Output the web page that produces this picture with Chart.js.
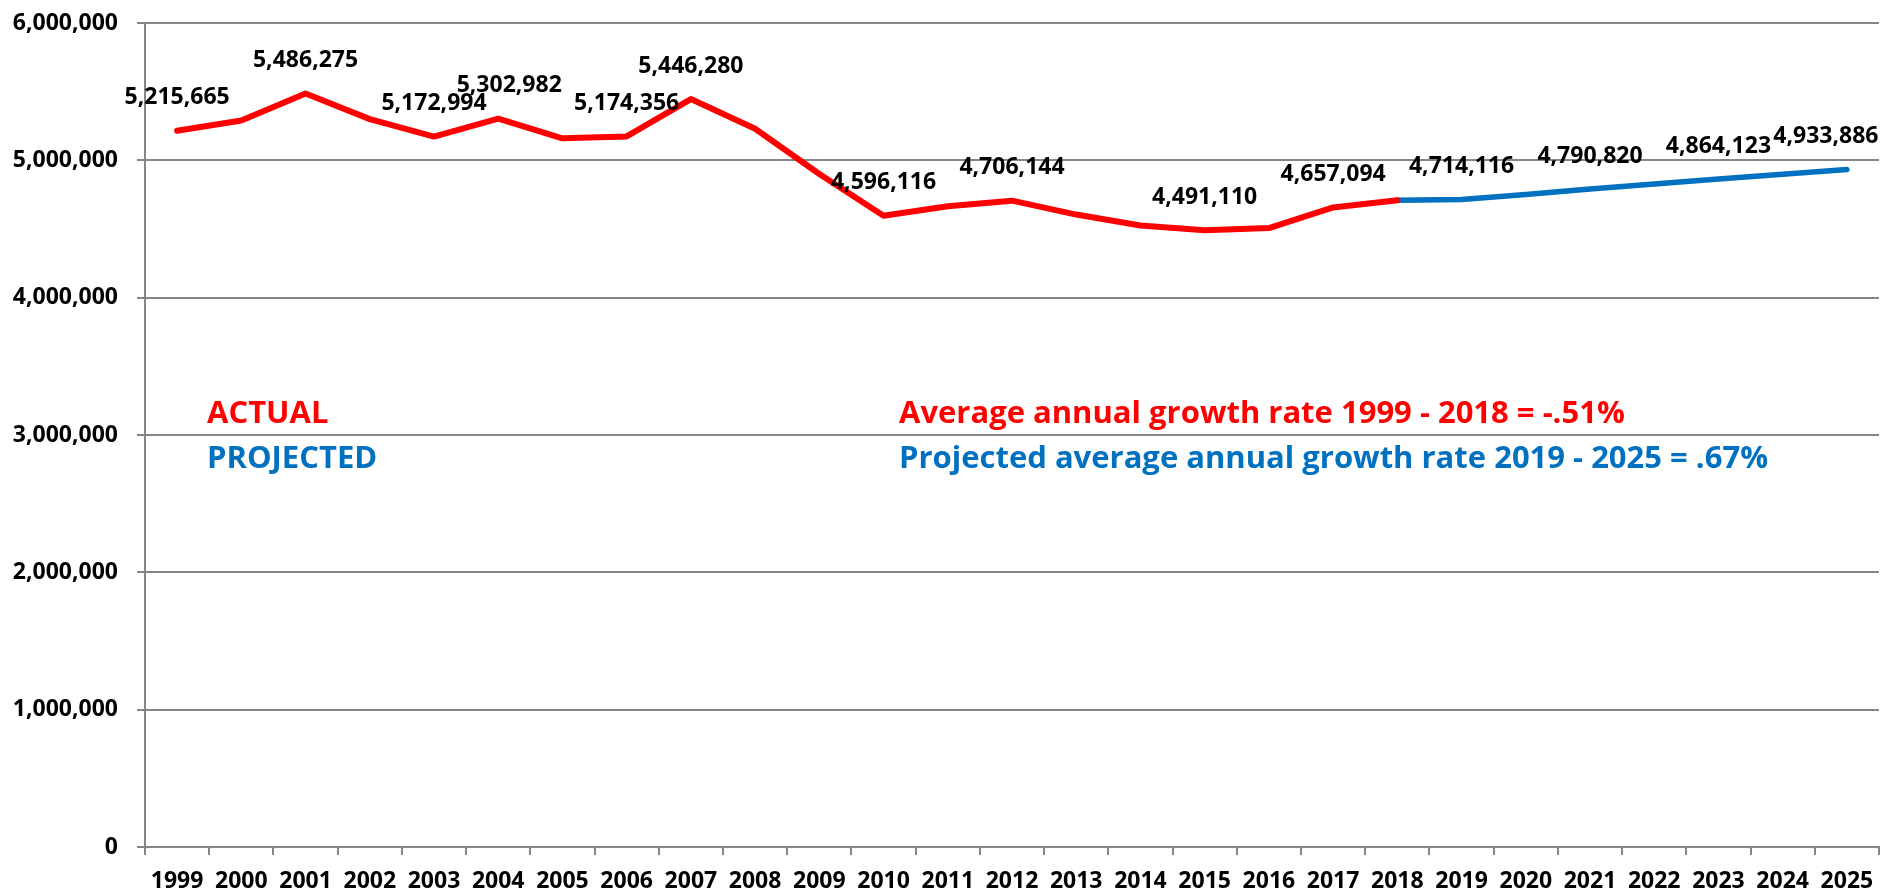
<!DOCTYPE html>
<html>
<head>
<meta charset="utf-8">
<title>Actual and projected</title>
<script src="https://cdn.jsdelivr.net/npm/chart.js@4.4.1/dist/chart.umd.min.js"></script>
<style>
    html, body { margin: 0; padding: 0; background: #ffffff; }
    #wrap { width: 1883px; height: 893px; }
</style>
</head>
<body>
<div id="wrap"><canvas id="chart" width="1883" height="893"></canvas></div>
<script>
// Years on the x axis
const years = ['1999', '2000', '2001', '2002', '2003', '2004', '2005', '2006', '2007', '2008',
               '2009', '2010', '2011', '2012', '2013', '2014', '2015', '2016', '2017', '2018',
               '2019', '2020', '2021', '2022', '2023', '2024', '2025'];

// Actual values 1999 - 2018
const actualValues = [5215665, 5290000, 5486275, 5300000, 5172994, 5302982, 5160000, 5174356, 5446280, 5230000,
                      4900000, 4596116, 4665000, 4706144, 4605000, 4525000, 4491110, 4507000, 4657094, 4709000];

// Projected values 2019 - 2025
const projectedValues = [4714116, 4752000, 4790820, 4827000, 4864123, 4899000, 4933886];

// Years that carry a value label
const labeledYears = ['1999', '2001', '2003', '2004', '2006', '2007', '2010', '2012', '2015', '2017',
                      '2019', '2021', '2023', '2025'];

const yTicks = [0, 1000000, 2000000, 3000000, 4000000, 5000000, 6000000];

const RED = '#ff0000';
const BLUE = '#0070c0';
const GRID = '#868686';
const FONT = '"Open Sans", Lato, sans-serif';

// projected line starts at the last actual point
const projectedData = years.map((y, i) => {
    const k = i - actualValues.length;
    if (k === -1) return actualValues[actualValues.length - 1];
    if (k < 0) return null;
    return projectedValues[k];
});

function fmt(v) {
    return v.toLocaleString('en-US');
}

// Value labels above points (a couple nudged sideways like the original)
const labelShift = { '2004': 11, '2025': -21 };

const valueLabels = {
    id: 'valueLabels',
    afterDatasetsDraw(chart) {
        const ctx = chart.ctx;
        ctx.save();
        ctx.font = 'bold 23px ' + FONT;
        ctx.fillStyle = '#000000';
        ctx.textAlign = 'center';
        ctx.textBaseline = 'middle';
        labeledYears.forEach(y => {
            const i = years.indexOf(y);
            const ds = i < actualValues.length ? 0 : 1;
            const pt = chart.getDatasetMeta(ds).data[i];
            const v = chart.data.datasets[ds].data[i];
            ctx.fillText(fmt(v), pt.x + (labelShift[y] || 0), pt.y - 33);
        });
        ctx.restore();
    }
};

// Legend-like texts inside the plot
const notes = {
    id: 'notes',
    afterDatasetsDraw(chart) {
        const ctx = chart.ctx;
        ctx.save();
        ctx.font = 'bold 31px ' + FONT;
        ctx.textAlign = 'left';
        ctx.textBaseline = 'middle';
        ctx.fillStyle = RED;
        ctx.fillText('ACTUAL', 207, 414);
        ctx.fillText('Average annual growth rate 1999 - 2018 = -.51%', 899, 414);
        ctx.fillStyle = BLUE;
        ctx.fillText('PROJECTED', 207, 459);
        ctx.fillText('Projected average annual growth rate 2019 - 2025 = .67%', 899, 459);
        ctx.restore();
    }
};

new Chart(document.getElementById('chart'), {
    type: 'line',
    data: {
        labels: years,
        datasets: [
            {
                label: 'Actual',
                data: actualValues,
                borderColor: RED,
                borderWidth: 6,
                pointRadius: 0,
                tension: 0,
                borderCapStyle: 'round',
                borderJoinStyle: 'round'
            },
            {
                label: 'Projected',
                data: projectedData,
                borderColor: BLUE,
                borderWidth: 5.5,
                pointRadius: 0,
                tension: 0,
                borderCapStyle: 'round',
                borderJoinStyle: 'round'
            }
        ]
    },
    options: {
        responsive: false,
        animation: false,
        devicePixelRatio: 1,
        layout: { padding: { top: 23, right: 4, bottom: 0, left: 0 } },
        plugins: {
            legend: { display: false },
            tooltip: { enabled: false }
        },
        scales: {
            x: {
                offset: true,
                grid: {
                    offset: true,
                    drawOnChartArea: false,
                    color: GRID,
                    lineWidth: 2,
                    tickLength: 8
                },
                border: { display: true, color: GRID, width: 2 },
                ticks: {
                    color: '#000000',
                    font: { family: FONT, size: 23, weight: 'bold' },
                    padding: 13,
                    maxRotation: 0,
                    autoSkip: false
                },
                afterFit: s => { s.height = 46; s.paddingLeft = 0; s.paddingRight = 0; }
            },
            y: {
                min: 0,
                max: 6000000,
                afterBuildTicks: s => { s.ticks = yTicks.map(v => ({ value: v })); },
                grid: {
                    color: GRID,
                    lineWidth: 2,
                    tickLength: 8
                },
                border: { display: true, color: GRID, width: 2 },
                ticks: {
                    color: '#000000',
                    font: { family: FONT, size: 23, weight: 'bold' },
                    padding: 19,
                    callback: v => fmt(v)
                },
                afterFit: s => { s.width = 145; s.paddingTop = 0; s.paddingBottom = 0; }
            }
        }
    },
    plugins: [valueLabels, notes]
});
</script>
</body>
</html>
